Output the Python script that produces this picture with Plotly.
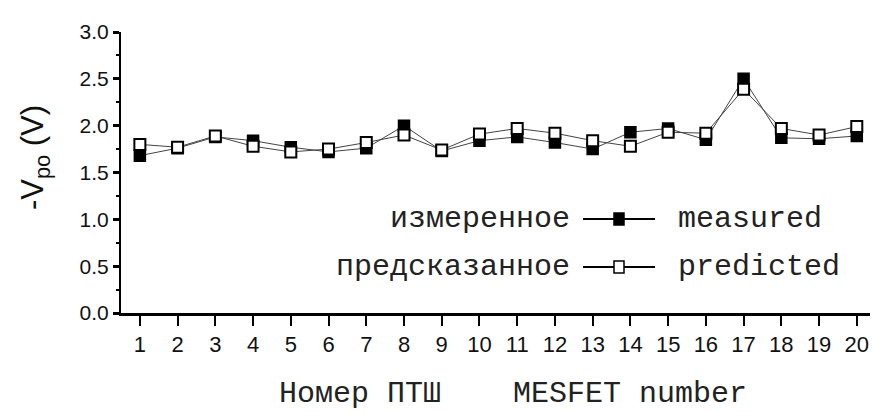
import plotly.graph_objects as go

# Pinch-off voltage per MESFET
mesfet_no = list(range(1, 21))
measured = [1.68, 1.76, 1.88, 1.84, 1.77, 1.72, 1.76, 2.00, 1.73, 1.84,
            1.88, 1.82, 1.75, 1.93, 1.97, 1.85, 2.50, 1.87, 1.86, 1.89]
predicted = [1.80, 1.77, 1.89, 1.78, 1.72, 1.75, 1.82, 1.90, 1.74, 1.91,
             1.97, 1.92, 1.84, 1.78, 1.93, 1.92, 2.39, 1.97, 1.90, 1.99]
y_ticks = [0.0, 0.5, 1.0, 1.5, 2.0, 2.5, 3.0]
y_tick_text = ["0.0", "0.5", "1.0", "1.5", "2.0", "2.5", "3.0"]

W, H = 872, 412
L, R, T, B = 121, 2, 32, 99
pw, ph = W - L - R, H - T - B

def px(x):
    return (x - L) / pw

def py(y):
    return (H - B - y) / ph

line_col = "#444444"
fig = go.Figure()
fig.add_trace(go.Scatter(
    x=mesfet_no, y=measured, mode="lines+markers", name="measured",
    line=dict(color=line_col, width=1),
    marker=dict(symbol="square", size=11, color="black",
                line=dict(color="black", width=1.5)),
    showlegend=False))
fig.add_trace(go.Scatter(
    x=mesfet_no, y=predicted, mode="lines+markers", name="predicted",
    line=dict(color=line_col, width=1),
    marker=dict(symbol="square", size=11, color="white",
                line=dict(color="black", width=2)),
    showlegend=False))

mono = "Liberation Mono, Courier New, monospace"
sans = "Liberation Sans, Arial"

# Hand-drawn key: Russian label, symbol, English label
rows = [("измеренное", "measured", "black", 219),
        ("предсказанное", "predicted", "white", 267)]
sym_l, sym_r = 583, 655
for ru, en, fill, yy in rows:
    fig.add_annotation(x=px(572), y=py(yy), xref="paper", yref="paper",
                       text=ru, showarrow=False, xanchor="right", yanchor="middle",
                       font=dict(family=mono, size=30, color="#222"))
    fig.add_annotation(x=px(676), y=py(yy), xref="paper", yref="paper",
                       text=en, showarrow=False, xanchor="left", yanchor="middle",
                       font=dict(family=mono, size=30, color="#222"))
    fig.add_shape(type="line", xref="paper", yref="paper",
                  x0=px(sym_l), x1=px(sym_r), y0=py(yy), y1=py(yy),
                  line=dict(color="black", width=2))
    cx = (sym_l + sym_r) / 2
    fig.add_shape(type="rect", xref="paper", yref="paper",
                  x0=px(cx - 5), x1=px(cx + 5), y0=py(yy - 6), y1=py(yy + 6),
                  fillcolor=fill, line=dict(color="black", width=1.5))

# x-axis title
fig.add_annotation(x=px(513), y=py(394), xref="paper", yref="paper",
                   text="Номер ПТШ    MESFET number", showarrow=False,
                   xanchor="center", yanchor="middle",
                   font=dict(family=mono, size=30, color="#222"))

# y-axis title
fig.add_annotation(x=px(35), y=py(158), xref="paper", yref="paper",
                   text="-V<sub>po</sub> (V)", showarrow=False, textangle=-90,
                   xanchor="center", yanchor="middle",
                   font=dict(family=sans, size=31, color="#111"))

fig.update_layout(
    width=W, height=H,
    margin=dict(l=L, r=R, t=T, b=B, pad=0),
    paper_bgcolor="white", plot_bgcolor="white",
    font=dict(family=sans, color="#111"),
)
fig.update_xaxes(
    range=[0.5, 20.35], tickmode="array", tickvals=mesfet_no,
    ticks="outside", ticklen=10, tickwidth=2, tickcolor="black",
    showline=True, linecolor="black", linewidth=3,
    showgrid=False, zeroline=False,
    tickfont=dict(family=sans, size=22, color="#111"),
)
fig.update_yaxes(
    range=[0, 3.0], tickmode="array", tickvals=y_ticks, ticktext=y_tick_text,
    ticks="outside", ticklen=6, tickwidth=3, tickcolor="black",
    minor=dict(tickvals=[0.25, 0.75, 1.25, 1.75, 2.25, 2.75],
               ticks="outside", ticklen=3, tickwidth=2, tickcolor="black"),
    showline=True, linecolor="black", linewidth=2,
    showgrid=False, zeroline=False,
    tickfont=dict(family=sans, size=21, color="#111"),
)

fig.write_html("out.html")
